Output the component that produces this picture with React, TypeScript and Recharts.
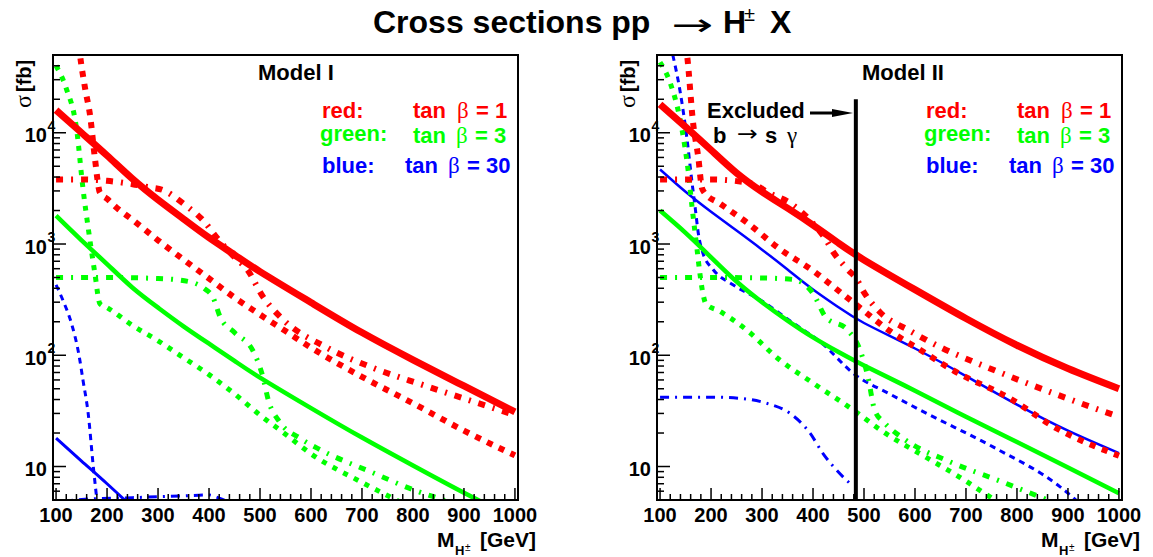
import React from 'react';
import { LineChart, Line, XAxis, YAxis, ReferenceLine } from 'recharts';

const SANS = '"Liberation Sans", Arial, Helvetica, sans-serif';
const SERIF = '"Liberation Serif", "DejaVu Serif", serif';
const SYM = '"DejaVu Sans", sans-serif';

const RED = '#ff0000';
const GREEN = '#00ff00';
const BLUE = '#0000ff';

// axes
const X_DOMAIN = [94, 1006];
const Y_DOMAIN = [5, 50000];
const xMajorTicks = [100, 200, 300, 400, 500, 600, 700, 800, 900, 1000];
const yDecades = [10, 100, 1000, 10000];
const xTicks = xMajorTicks.flatMap((m) => (m < 1000 ? [m, m + 20, m + 40, m + 60, m + 80] : [m]));
const yTicks = [5, 6, 7, 8, 9, ...yDecades.flatMap((d) => [1, 2, 3, 4, 5, 6, 7, 8, 9].map((k) => k * d))].filter(
  (v) => v <= Y_DOMAIN[1]
);

// Model I: [M_H+ (GeV), sigma (fb)]
const m1RedSolid = [[100, 16000], [150, 10000], [200, 6250], [250, 3850], [300, 2500], [350, 1680], [400, 1140], [450, 800], [500, 565], [600, 298], [700, 160], [800, 91], [900, 53], [1000, 31]];
const m1RedDotted = [[142, 80000], [147, 50000], [157, 25000], [167, 14000], [176, 6000], [186, 2900], [200, 2550], [220, 2100], [250, 1650], [300, 1080], [350, 725], [400, 490], [450, 330], [500, 232], [550, 165], [600, 117], [700, 64], [800, 37], [900, 21], [1000, 12.6]];
const m1RedDashDot = [[100, 3800], [150, 3800], [200, 3700], [250, 3450], [280, 3250], [310, 3050], [350, 2300], [390, 1600], [418, 1100], [450, 760], [475, 590], [505, 340], [545, 210], [630, 118], [725, 76], [820, 54], [1000, 29]];
const m1GreenSolid = [[100, 1800], [150, 1080], [200, 660], [250, 405], [300, 268], [350, 182], [400, 127], [450, 89], [500, 63], [600, 33.5], [700, 18.2], [800, 10.2], [900, 5.8], [1000, 3.4]];
const m1GreenDotted = [[100, 40000], [120, 25000], [140, 11000], [153, 3100], [163, 1400], [176, 550], [186, 290], [200, 268], [250, 185], [300, 135], [350, 95], [400, 67], [450, 45], [500, 29], [550, 19.5], [600, 13], [700, 7.2], [800, 4.2]];
const m1GreenDashDot = [[100, 500], [200, 500], [300, 490], [360, 460], [390, 400], [408, 330], [422, 220], [450, 160], [486, 110], [506, 63], [516, 40], [539, 25], [578, 18], [620, 14], [716, 9], [808, 6], [860, 5], [900, 4.3]];
const m1BlueSolid = [[100, 18], [150, 11.2], [200, 7], [250, 4.3]];
const m1BlueDashed = [[100, 430], [115, 300], [130, 195], [145, 100], [153, 59], [163, 30], [173, 10], [180, 5], [185, 3]];
const m1BlueDashDot = [[100, 4.8], [150, 5.05], [250, 5.25], [350, 5.45], [400, 5.55], [420, 5.2], [450, 4.5]];

// Model II
const m2RedSolid = [[100, 18000], [150, 11300], [200, 7000], [250, 4350], [300, 2950], [350, 2100], [400, 1480], [450, 1020], [500, 720], [600, 389], [700, 214], [800, 123], [900, 76], [1000, 50]];
const m2RedDotted = [[147, 80000], [153, 50000], [165, 12000], [175, 6000], [182, 3200], [187, 2900], [218, 2300], [271, 1550], [335, 900], [400, 575], [450, 380], [500, 250], [550, 166], [610, 112], [675, 73], [786, 41], [878, 22], [1000, 12.5]];
const m2RedDashDot = [[100, 3800], [200, 3800], [280, 3500], [312, 2900], [357, 2300], [396, 1600], [425, 1100], [441, 830], [468, 590], [486, 480], [498, 380], [531, 245], [590, 166], [655, 115], [727, 83], [820, 56], [918, 38], [1000, 28]];
const m2GreenSolid = [[100, 2000], [150, 1260], [200, 760], [250, 460], [300, 300], [350, 205], [400, 145], [450, 107], [500, 81], [600, 48], [700, 28], [800, 16.6], [900, 9.8], [1000, 5.75]];
const m2GreenDotted = [[100, 43000], [120, 28000], [143, 10700], [155, 4600], [163, 2100], [172, 940], [178, 550], [184, 360], [190, 290], [216, 250], [269, 170], [333, 92], [398, 57], [484, 31], [531, 21.5], [623, 12], [688, 8], [751, 5.2], [800, 3.8]];
const m2GreenDashDot = [[100, 500], [200, 500], [300, 495], [361, 480], [400, 360], [425, 220], [467, 170], [492, 112], [508, 63], [521, 32], [541, 24.5], [576, 18], [669, 11], [767, 7.4], [861, 5], [900, 4.3]];
const m2BlueSolid = [[100, 4680], [150, 2950], [200, 1950], [250, 1320], [300, 890], [350, 590], [400, 390], [450, 270], [500, 195], [600, 115], [700, 65], [800, 36], [900, 21], [1000, 13.2]];
const m2BlueDashed = [[125, 50000], [139, 24000], [153, 8700], [162, 3800], [169, 2100], [175, 1250], [184, 830], [204, 590], [243, 430], [296, 315], [361, 195], [414, 132], [484, 66], [550, 45], [623, 30], [753, 15], [884, 6.6], [920, 4.8]];
const m2BlueDashDot = [[100, 42], [200, 42], [257, 41], [309, 37], [355, 30], [394, 20], [420, 13], [447, 9.2], [473, 7]];

// b -> s gamma exclusion limit (Model II)
const excludedMass = 484;
const excludedTop = 20000;

type Series = { data: number[][]; color: string; width: number; dash?: string };

const DOTTED = '6 7';
const DASHDOT = '7 8 2 8';

const modelI: Series[] = [
  { data: m1BlueDashDot, color: BLUE, width: 3, dash: '9 6 2 6' },
  { data: m1BlueDashed, color: BLUE, width: 3, dash: '6 5' },
  { data: m1BlueSolid, color: BLUE, width: 3 },
  { data: m1GreenDashDot, color: GREEN, width: 5, dash: DASHDOT },
  { data: m1GreenDotted, color: GREEN, width: 5, dash: '5 7' },
  { data: m1GreenSolid, color: GREEN, width: 4.5 },
  { data: m1RedSolid, color: RED, width: 7 },
  { data: m1RedDotted, color: RED, width: 6, dash: DOTTED },
  { data: m1RedDashDot, color: RED, width: 6, dash: DASHDOT },
];

const modelII: Series[] = [
  { data: m2BlueDashDot, color: BLUE, width: 3, dash: '9 6 2 6' },
  { data: m2BlueDashed, color: BLUE, width: 3, dash: '6 5' },
  { data: m2BlueSolid, color: BLUE, width: 2.5 },
  { data: m2GreenDashDot, color: GREEN, width: 5, dash: DASHDOT },
  { data: m2GreenDotted, color: GREEN, width: 5, dash: '5 7' },
  { data: m2GreenSolid, color: GREEN, width: 4.5 },
  { data: m2RedSolid, color: RED, width: 7 },
  { data: m2RedDotted, color: RED, width: 6, dash: DOTTED },
  { data: m2RedDashDot, color: RED, width: 6, dash: DASHDOT },
];

function XTick(props: any) {
  const { x, y, payload } = props;
  const major = payload.value % 100 === 0;
  return (
    <g>
      <line x1={x} y1={y} x2={x} y2={y - (major ? 12 : 6)} stroke="#000" strokeWidth={1.5} />
      {major && (
        <text x={x} y={y + 22} textAnchor="middle" fontFamily={SANS} fontWeight="bold" fontSize={20} fill="#000">
          {payload.value}
        </text>
      )}
    </g>
  );
}

function YTick(props: any) {
  const { x, y, payload } = props;
  const lg = Math.log10(payload.value);
  const major = Math.abs(lg - Math.round(lg)) < 1e-6;
  const exp = Math.round(lg);
  return (
    <g>
      <line x1={x} y1={y} x2={x + (major ? 13 : 7)} y2={y} stroke="#000" strokeWidth={1.5} />
      {major && (
        <text x={x - 6} y={y + 9.5} textAnchor="end" fontFamily={SANS} fontWeight="bold" fontSize={20} fill="#000">
          10
        </text>
      )}
      {major && exp > 1 && (
        <text x={x - 5.5} y={y - 2} fontFamily={SANS} fontWeight="bold" fontSize={14} fill="#000">
          {exp}
        </text>
      )}
    </g>
  );
}

function Panel({ left, series, children }: { left: number; series: Series[]; children?: React.ReactNode }) {
  return (
    <div style={{ position: 'absolute', left, top: 0 }}>
      <LineChart width={549} height={557} margin={{ top: 55, right: 31, bottom: 56, left: 52 }}>
        <XAxis
          type="number"
          dataKey="x"
          domain={X_DOMAIN}
          allowDataOverflow
          ticks={xTicks}
          interval={0}
          tick={(p: any) => <XTick {...p} />}
          tickLine={false}
          axisLine={false}
          tickSize={0}
          tickMargin={0}
          height={1}
        />
        <YAxis
          type="number"
          scale="log"
          domain={Y_DOMAIN}
          allowDataOverflow
          ticks={yTicks}
          interval={0}
          tick={(p: any) => <YTick {...p} />}
          tickLine={false}
          axisLine={false}
          tickSize={0}
          tickMargin={0}
          width={1}
        />
        {series.map((s, i) => (
          <Line
            key={i}
            data={s.data.map(([x, y]) => ({ x, y }))}
            dataKey="y"
            type={s.dash ? 'monotone' : 'natural'}
            stroke={s.color}
            strokeWidth={s.width}
            strokeDasharray={s.dash}
            strokeLinecap="butt"
            dot={false}
            activeDot={false}
            isAnimationActive={false}
          />
        ))}
        {children}
      </LineChart>
    </div>
  );
}

const txt = { fontFamily: SANS, fontWeight: 'bold' as const };

function PanelText({ dx, model }: { dx: number; model: string }) {
  return (
    <g>
      <rect x={53 + dx} y={55} width={465} height={445} fill="none" stroke="#000" strokeWidth={2} />
      <text x={258 + dx} y={80} {...txt} fontSize={22} fill="#000">{model}</text>
      <text x={322 + dx} y={118} {...txt} fontSize={22} fill={RED}>red:</text>
      <text x={413 + dx} y={118} {...txt} fontSize={22} fill={RED}>tan</text>
      <text x={457 + dx} y={118} fontFamily={SERIF} fontSize={23} fill={RED}>β</text>
      <text x={476 + dx} y={118} {...txt} fontSize={22} fill={RED}>= 1</text>
      <text x={320 + dx} y={141} {...txt} fontSize={22} fill={GREEN}>green:</text>
      <text x={413 + dx} y={143} {...txt} fontSize={22} fill={GREEN}>tan</text>
      <text x={456 + dx} y={143} fontFamily={SERIF} fontSize={23} fill={GREEN}>β</text>
      <text x={475 + dx} y={143} {...txt} fontSize={22} fill={GREEN}>= 3</text>
      <text x={322 + dx} y={173} {...txt} fontSize={22} fill={BLUE}>blue:</text>
      <text x={405 + dx} y={173} {...txt} fontSize={22} fill={BLUE}>tan</text>
      <text x={448 + dx} y={173} fontFamily={SERIF} fontSize={23} fill={BLUE}>β</text>
      <text x={467 + dx} y={173} {...txt} fontSize={22} fill={BLUE}>= 30</text>
      <g transform={`translate(${31 + dx}, 108) rotate(-90)`}>
        <text x={0} y={0} fontFamily={SERIF} fontSize={24} fill="#000">σ</text>
        <text x={16} y={0} {...txt} fontSize={20} fill="#000">[fb]</text>
      </g>
      <text x={437 + dx} y={547} {...txt} fontSize={21} fill="#000">M</text>
      <text x={455 + dx} y={555} {...txt} fontSize={13} fill="#000">H</text>
      <text x={465 + dx} y={551} fontFamily={SANS} fontSize={10} fill="#000">±</text>
      <text x={480 + dx} y={547} {...txt} fontSize={21} fill="#000">[GeV]</text>
    </g>
  );
}

function Annotations() {
  return (
    <svg width={1153} height={557} style={{ position: 'absolute', left: 0, top: 0, pointerEvents: 'none' }}>
      <text x={373} y={33} {...txt} fontSize={32} fill="#000">Cross sections pp</text>
      <text x={671} y={35} fontFamily={SYM} fontSize={30} textLength={42} lengthAdjust="spacingAndGlyphs" fill="#000">→</text>
      <text x={723} y={33} {...txt} fontSize={32} fill="#000">H</text>
      <text x={744} y={21} fontFamily={SANS} fontSize={20} fill="#000">±</text>
      <text x={770} y={33} {...txt} fontSize={32} fill="#000">X</text>
      <PanelText dx={0} model="Model I" />
      <PanelText dx={604} model="Model II" />
      <text x={707} y={118} {...txt} fontSize={22} fill="#000">Excluded</text>
      <line x1={810} y1={113} x2={836} y2={113} stroke="#000" strokeWidth={3} />
      <polygon points="832,109 853,113 832,117" fill="#000" />
      <text x={713} y={143} {...txt} fontSize={22} fill="#000">b</text>
      <text x={737} y={141} fontFamily={SYM} fontSize={22} textLength={21} lengthAdjust="spacingAndGlyphs" fill="#000">→</text>
      <text x={765} y={143} {...txt} fontSize={22} fill="#000">s</text>
      <text x={787} y={143} fontFamily={SERIF} fontSize={23} fill="#000">γ</text>
    </svg>
  );
}

export default function App() {
  return (
    <div style={{ position: 'absolute', left: 0, top: 0, width: 1153, height: 557, background: '#fff' }}>
      <Panel left={0} series={modelI} />
      <Panel left={604} series={modelII}>
        <ReferenceLine
          segment={[{ x: excludedMass, y: Y_DOMAIN[0] }, { x: excludedMass, y: excludedTop }]}
          stroke="#000"
          strokeWidth={4}
          ifOverflow="visible"
        />
      </Panel>
      <Annotations />
    </div>
  );
}
